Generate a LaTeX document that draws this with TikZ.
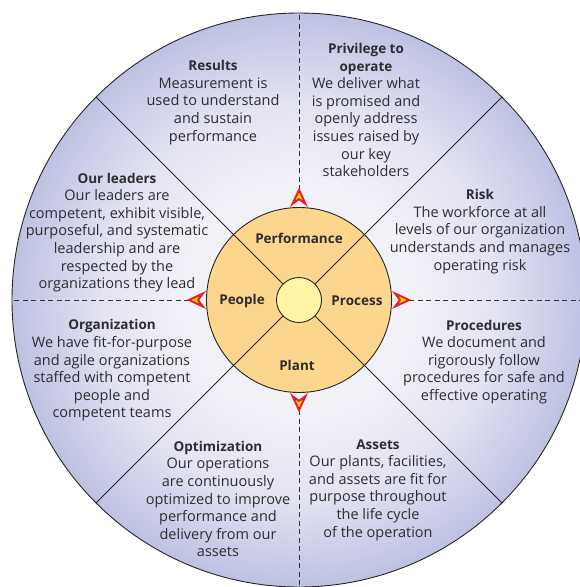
\documentclass[tikz,border=0pt]{standalone}
\usepackage{fontspec}
\setmainfont{Open Sans}
\usetikzlibrary{calc}

\definecolor{rimlav}{RGB}{190,193,226}
\definecolor{rimmid}{RGB}{228,228,242}
\definecolor{rimlight}{RGB}{241,241,248}
\definecolor{ringorange}{RGB}{252,214,140}
\definecolor{hubyellow}{RGB}{255,245,165}
\definecolor{inkgray}{RGB}{45,45,50}
\definecolor{flagred}{RGB}{237,28,36}
\definecolor{flagyellow}{RGB}{255,230,0}

\pgfdeclareradialshading{rimshade}{\pgfpoint{0bp}{0bp}}{%
  color(0bp)=(rimlight); color(10bp)=(rimlight); color(17bp)=(rimmid);
  color(25bp)=(rimlav); color(50bp)=(rimlav)}

\newcommand{\hd}[1]{{\fontsize{13.5}{17.6}\selectfont\bfseries #1}}

\begin{document}
\begin{tikzpicture}[x=1pt, y=1pt,
    disc/.style={circle, draw=black!85, line width=0.9pt, inner sep=0pt, outer sep=0pt},
    note/.style={align=center, font=\fontsize{14.5}{17.6}\selectfont, text=inkgray},
    tag/.style={font=\fontsize{13.5}{16}\selectfont\bfseries, text=inkgray},
    spoke/.style={draw=black!85, line width=0.9pt},
    guide/.style={draw=black!80, dash pattern=on 5pt off 3.5pt, line width=0.8pt},
    flag/.style={draw=flagred, fill=flagyellow, line width=2pt, line join=miter, miter limit=6},
]
    \useasboundingbox (0,0) rectangle (580,-587);
    \coordinate (c) at (299,-300);

    % discs
    \node[disc, shading=rimshade, minimum size=574pt] (rim) at (c) {};
    \node[disc, fill=ringorange, minimum size=185pt] (ring) at (c) {};
    \node[disc, fill=hubyellow, minimum size=45pt] (hub) at (c) {};

    \foreach \a in {45,135,225,315}
        \draw[spoke] (hub.\a) -- (rim.\a);

    % dashed guides with their arrowheads
    \foreach \a in {0,90,180,270} {
        \coordinate (tip\a) at ($(ring.\a)+(\a:17.5)$);
        \draw[guide] (tip\a) -- (rim.\a);
        \filldraw[flag] (tip\a) -- +(\a+155:15.2) -- +(\a+180:9)
            -- +(\a+205:15.2) -- cycle;
    }

    % ring labels
    \node[tag] (performance) at ($(c)+(0,62)$) {Performance};
    \node[tag] (people) at ($(c)+(-57,-1)$) {People};
    \node[tag] (process) at ($(c)+(58,-1)$) {Process};
    \node[tag] (plant) at ($(c)+(-2,-65)$) {Plant};

    % outer sectors
    \node[note] (results) at ($(c)+(-86,197.5)$)
        {\hd{Results}\\Measurement is\\used to understand\\and sustain\\performance};
    \node[note] (privilege) at ($(c)+(67,190)$)
        {\hd{Privilege to}\\\hd{operate}\\We deliver what\\is promised and\\openly address\\issues raised by\\our key\\stakeholders};
    \node[note] (risk) at ($(c)+(181,68.5)$)
        {\hd{Risk}\\The workforce at all\\levels of our organization\\understands and manages\\operating risk};
    \node[note] (leaders) at ($(c)+(-182,67.5)$)
        {\hd{Our leaders}\\Our leaders are\\competent, exhibit visible,\\purposeful, and systematic\\leadership and are\\respected by the\\organizations they lead};
    \node[note] (organization) at ($(c)+(-187,-70.5)$)
        {\hd{Organization}\\We have fit-for-purpose\\and agile organizations\\staffed with competent\\people and\\competent teams};
    \node[note] (procedures) at ($(c)+(185,-62)$)
        {\hd{Procedures}\\We document and\\rigorously follow\\procedures for safe and\\effective operating};
    \node[note] (optimization) at ($(c)+(-81,-199)$)
        {\hd{Optimization}\\Our operations\\are continuously\\optimized to improve\\performance and\\delivery from our\\assets};
    \node[note] (assets) at ($(c)+(79,-190)$)
        {\hd{Assets}\\Our plants, facilities,\\and assets are fit for\\purpose throughout\\the life cycle\\of the operation};
\end{tikzpicture}
\end{document}
